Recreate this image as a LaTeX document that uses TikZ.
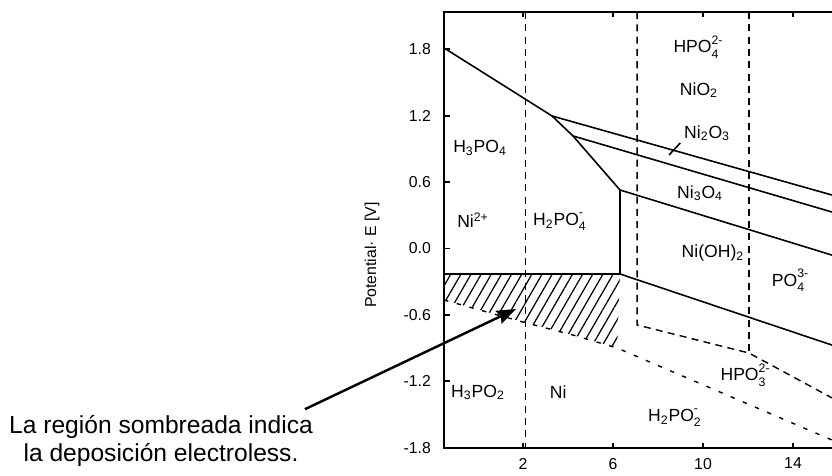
\documentclass[tikz,border=0pt]{standalone}
\usepackage{fontspec}
\setmainfont{Liberation Sans}
\usetikzlibrary{arrows.meta, patterns.meta}

% subindice y carga apilados
\newcommand{\ionsp}[2]{\rlap{\raisebox{-0.55ex}{\scriptsize #1}}\raisebox{0.95ex}{\scriptsize #2}}

\begin{document}
\begin{tikzpicture}[>=Stealth,
  borde/.style={line width=1.1pt},
  linea/.style={line width=0.9pt},
  trazos/.style={line width=0.8pt, dash pattern=on 4pt off 3pt},
  puntos/.style={line width=0.8pt, dash pattern=on 2.5pt off 5pt},
  etiq/.style={font=\fontsize{10}{11}\selectfont, inner sep=1pt},
  valor/.style={font=\fontsize{9}{10}\selectfont, inner sep=1pt}]

  \useasboundingbox (0,0) rectangle (16.64,9.5);
  \clip (0,0) rectangle (16.64,9.5);

  % Diagrama: x = pH, y = potencial E
  \begin{scope}[shift={(9.56,4.53)}, x=0.45cm, y=2.216cm]

    % Zona sombreada
    \fill[pattern={Lines[angle=60, distance=5pt, line width=0.7pt]}]
      (-1.51,-0.23) -- (6.31,-0.23) -- (6.18,-0.898) -- (4.22,-0.781)
      -- (2.0,-0.664) -- (-1.51,-0.465) -- cycle;

    % Ejes
    \draw[borde] (16,2.134) -- (-1.51,2.134) -- (-1.51,-1.8) -- (16,-1.8);
    \foreach \e in {1.8,1.2,0.6,0.0,-0.6,-1.2,-1.8} {
      \draw[borde] (-1.51,\e) -- ++(0.12cm,0);
      \node[valor, anchor=east] at (-2.0,\e) {\e};
    }
    \foreach \p in {2,6,10,14} {
      \draw[borde] (\p,-1.8) -- ++(0,0.1cm);
      \draw[borde] (\p,2.134) -- ++(0,-0.1cm);
      \node[valor, anchor=north] at ([yshift=-0.16cm]\p,-1.8) {\p};
    }
    \node[valor, rotate=90] (eje) at (-4.71,-0.06) {Potential· E [V]};

    % Fronteras del niquel
    \draw[linea] (-1.51,1.81) -- (3.29,1.196) -- (4.22,1.016) -- (6.31,0.528)
      -- (6.31,-0.23) -- (-1.51,-0.23);
    \draw[linea] (3.29,1.196) -- (15.9,0.473);
    \draw[linea] (4.22,1.016) -- (15.9,0.319);
    \draw[linea] (6.31,0.528) -- (15.9,-0.070);
    \draw[linea] (6.31,-0.23) -- (15.9,-0.883);

    % Fronteras del fosforo
    \draw[trazos] (2.1,2.134) -- (2.1,-1.8);
    \draw[trazos] (7.07,2.134) -- (7.07,-0.69) -- (12.04,-0.943) -- (15.9,-1.367);
    \draw[trazos] (12.04,2.134) -- (12.04,-0.943);
    \draw[puntos] (-1.51,-0.465) -- (2.0,-0.664) -- (4.22,-0.781) -- (6.18,-0.898)
      -- (15.9,-1.743);

    % Especies
    \node[etiq] (hpo4)  at (9.78,1.82)   {HPO\ionsp{4}{2-}};
    \node[etiq] (nio2)  at (9.82,1.43)   {NiO\textsubscript{2}};
    \node[etiq] (ni2o3) at (10.18,1.042) {Ni\textsubscript{2}O\textsubscript{3}};
    \node[etiq] (ni3o4) at (9.87,0.50)   {Ni\textsubscript{3}O\textsubscript{4}};
    \node[etiq] (nioh)  at (10.44,-0.04) {Ni(OH)\textsubscript{2}};
    \node[etiq] (po4)   at (13.87,-0.284) {PO\ionsp{4}{3-}};
    \node[etiq] (hpo3)  at (11.87,-1.14) {HPO\ionsp{3}{2-}};
    \node[etiq] (h2po2) at (8.67,-1.53)  {H\textsubscript{2}PO\ionsp{2}{-}};
    \node[etiq] (h3po4) at (0.09,0.907)  {H\textsubscript{3}PO\textsubscript{4}};
    \node[etiq] (ni2)   at (-0.22,0.257) {Ni\textsuperscript{2+}};
    \node[etiq] (h2po4) at (3.56,0.239)  {H\textsubscript{2}PO\ionsp{4}{-}};
    \node[etiq] (h3po2) at (0,-1.30)     {H\textsubscript{3}PO\textsubscript{2}};
    \node[etiq] (ni)    at (3.56,-1.30)  {Ni};

    \coordinate (marca) at (8.49,0.844);
    \draw[linea] ([xshift=-1pt]ni2o3.south west) -- (marca);

    \coordinate (punta) at (1.69,-0.546);
  \end{scope}

  % Nota con flecha
  \node[font=\fontsize{14}{16}\selectfont, align=center, inner sep=1pt] (nota)
    at (3.22,0.68) {La región sombreada indica\\la deposición electroless.};
  \draw[-{Stealth[length=11pt, width=8pt, inset=1.5pt]}, line width=1.4pt]
    ([shift={(-0.2,0.08)}]nota.north east) -- (punta);
\end{tikzpicture}
\end{document}
